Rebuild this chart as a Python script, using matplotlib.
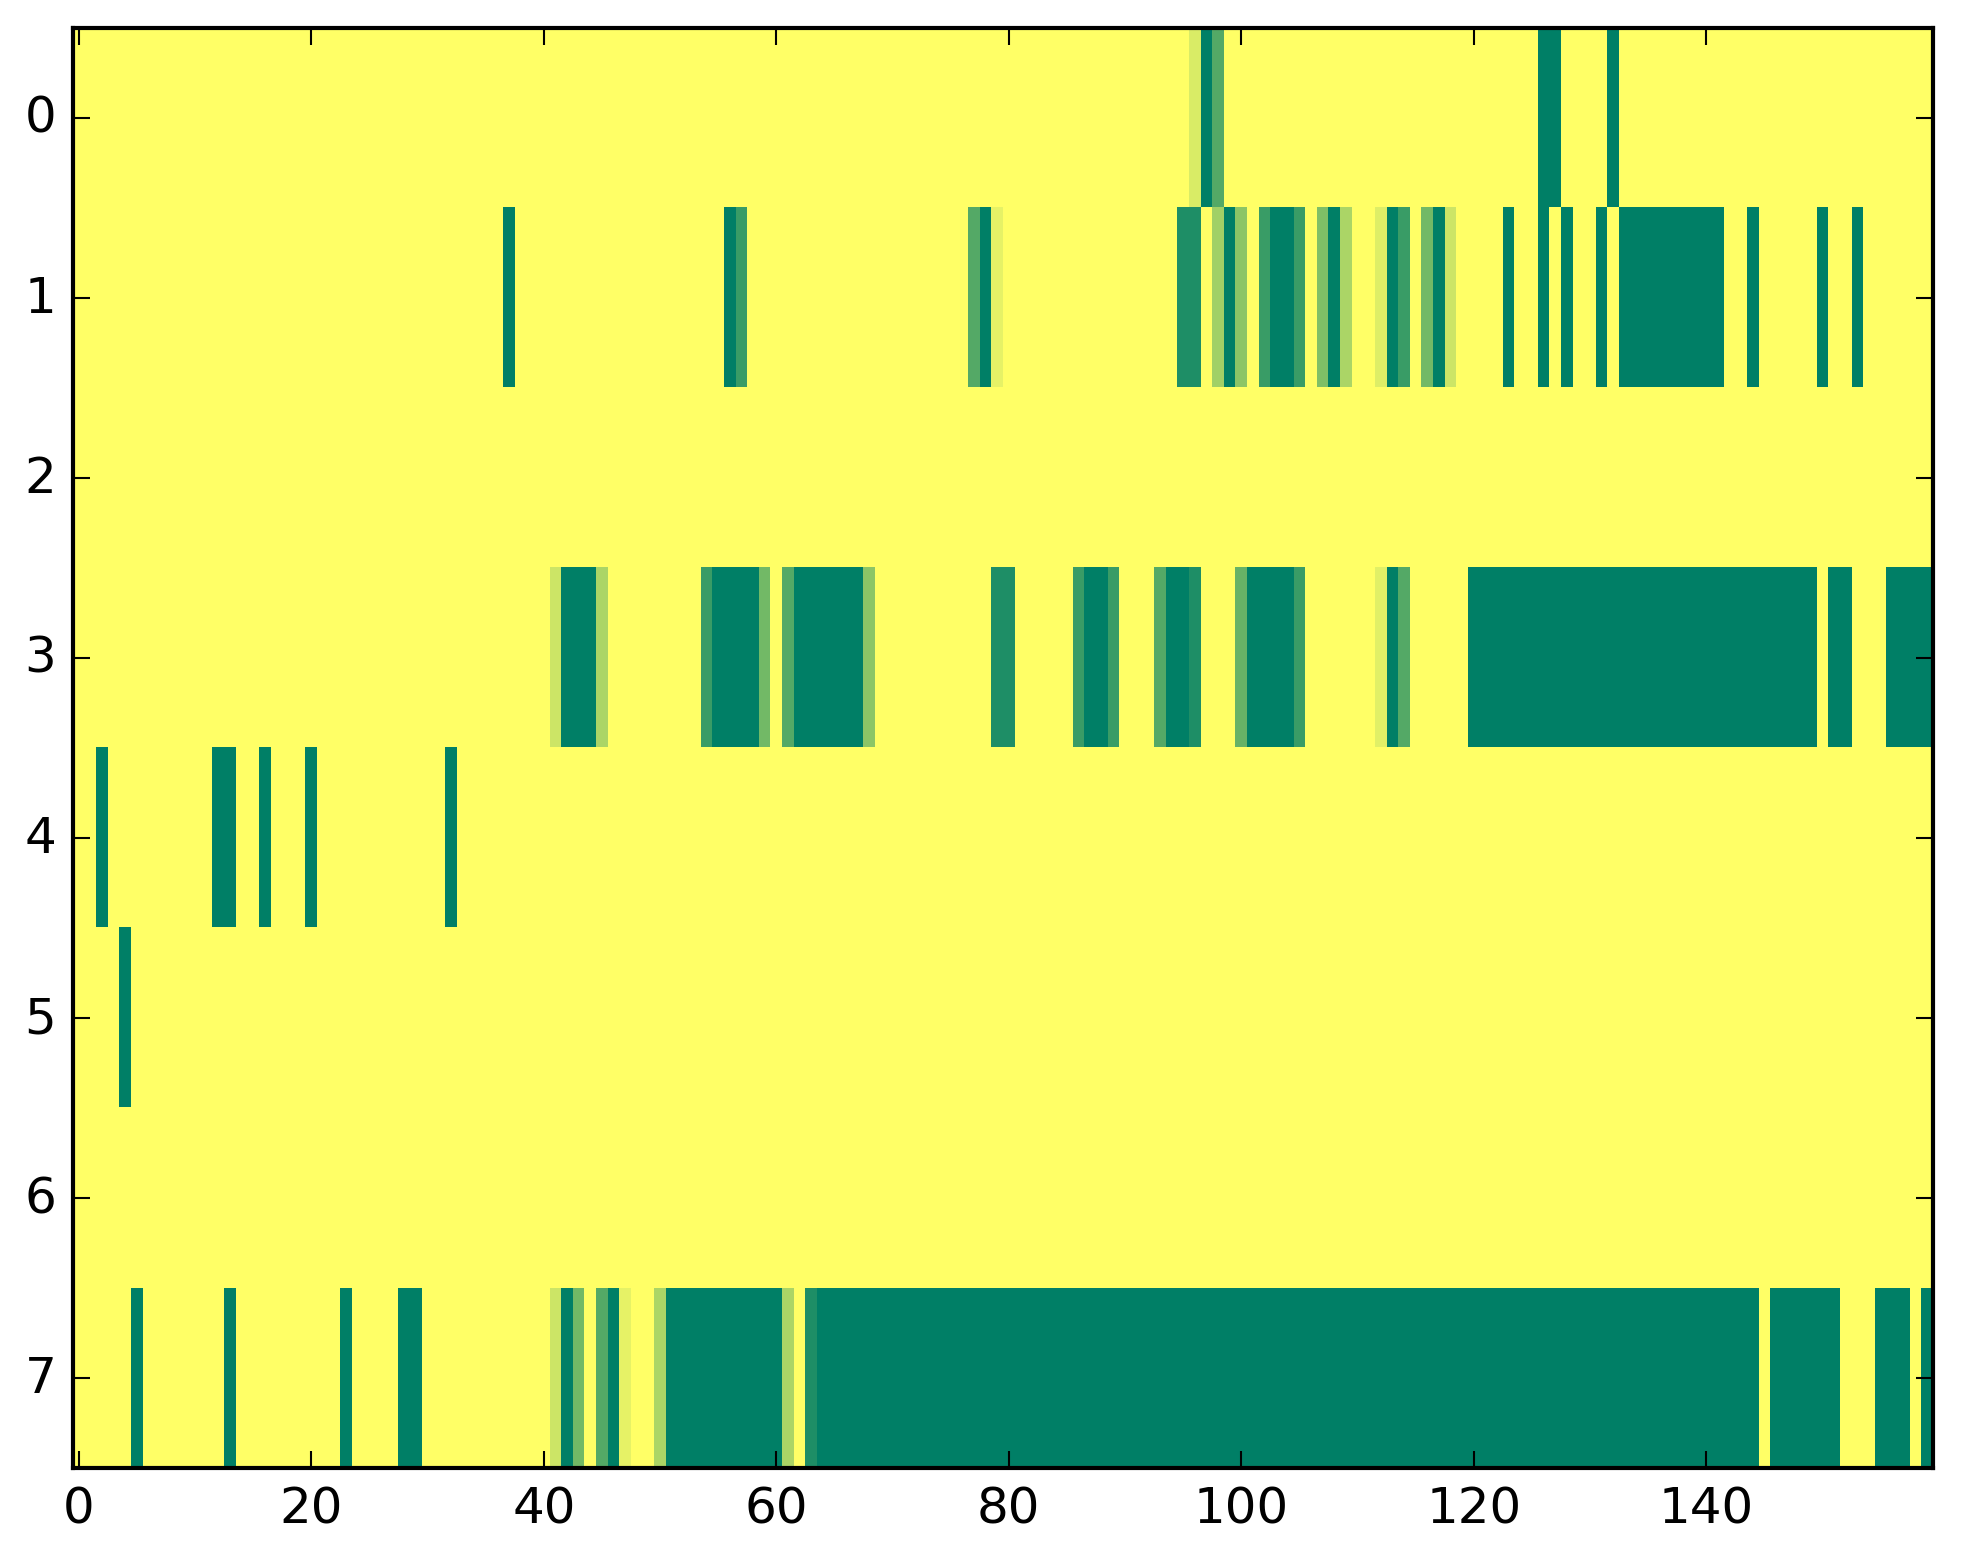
import numpy as np
import matplotlib
matplotlib.use("Agg")
import matplotlib.pyplot as plt

# ---------- data: per row, runs of (first_col, last_col, value) ----------
N_COLS = 160
row0 = [(96, 96, 0.15), (97, 97, 1.0), (98, 98, 0.67), (126, 127, 1.0), (132, 132, 1.0)]
row1 = [(37, 37, 1.0), (56, 56, 1.0), (57, 57, 0.77), (77, 77, 0.67), (78, 78, 1.0),
        (79, 79, 0.1), (95, 96, 0.88), (98, 98, 0.37), (99, 99, 1.0), (100, 100, 0.45),
        (102, 102, 0.77), (103, 104, 1.0), (105, 105, 0.77), (107, 107, 0.5),
        (108, 108, 1.0), (109, 109, 0.33), (112, 112, 0.13), (113, 113, 1.0),
        (114, 114, 0.77), (116, 116, 0.55), (117, 117, 1.0), (118, 118, 0.2),
        (123, 123, 1.0), (126, 126, 1.0), (128, 128, 1.0), (131, 131, 1.0),
        (133, 141, 1.0), (144, 144, 1.0), (150, 150, 1.0), (153, 153, 1.0)]
row2 = []
row3 = [(41, 41, 0.2), (42, 44, 1.0), (45, 45, 0.33), (54, 54, 0.77), (55, 58, 1.0),
        (59, 59, 0.55), (61, 61, 0.67), (62, 67, 1.0), (68, 68, 0.45), (79, 80, 0.88),
        (86, 86, 0.77), (87, 88, 1.0), (89, 89, 0.77), (93, 93, 0.67), (94, 95, 1.0),
        (96, 96, 0.88), (100, 100, 0.6), (101, 104, 1.0), (105, 105, 0.77),
        (112, 112, 0.12), (113, 113, 1.0), (114, 114, 0.67), (120, 149, 1.0),
        (151, 152, 1.0), (156, 159, 1.0)]
row4 = [(2, 2, 1.0), (12, 13, 1.0), (16, 16, 1.0), (20, 20, 1.0), (32, 32, 1.0)]
row5 = [(4, 4, 1.0)]
row6 = []
row7 = [(5, 5, 1.0), (13, 13, 1.0), (23, 23, 1.0), (28, 29, 1.0), (41, 41, 0.2),
        (42, 42, 1.0), (43, 43, 0.55), (45, 45, 0.67), (46, 46, 1.0), (47, 47, 0.1),
        (50, 50, 0.33), (51, 60, 1.0), (61, 61, 0.33), (63, 63, 0.88), (64, 144, 1.0),
        (146, 151, 1.0), (155, 157, 1.0), (159, 159, 1.0)]
rows = [row0, row1, row2, row3, row4, row5, row6, row7]

grid = np.zeros((len(rows), N_COLS))
for r, runs in enumerate(rows):
    for a, b, v in runs:
        grid[r, a:b + 1] = v

# ---------- plot ----------
DPI = 300
plt.style.use("classic")
fig = plt.figure(figsize=(1963 / DPI, 1564 / DPI), dpi=DPI, facecolor="white")
ax = fig.add_axes([0.0372, 0.0607, 0.9475, 0.9208])
ax.imshow(grid, cmap="summer_r", vmin=0, vmax=1, aspect="auto",
          interpolation="nearest")
ax.set_xticks(np.arange(0, 141, 20))
ax.set_yticks(np.arange(0, 8))
ax.tick_params(labelsize=12)
fig.savefig("out.png", dpi=DPI, facecolor="white")
